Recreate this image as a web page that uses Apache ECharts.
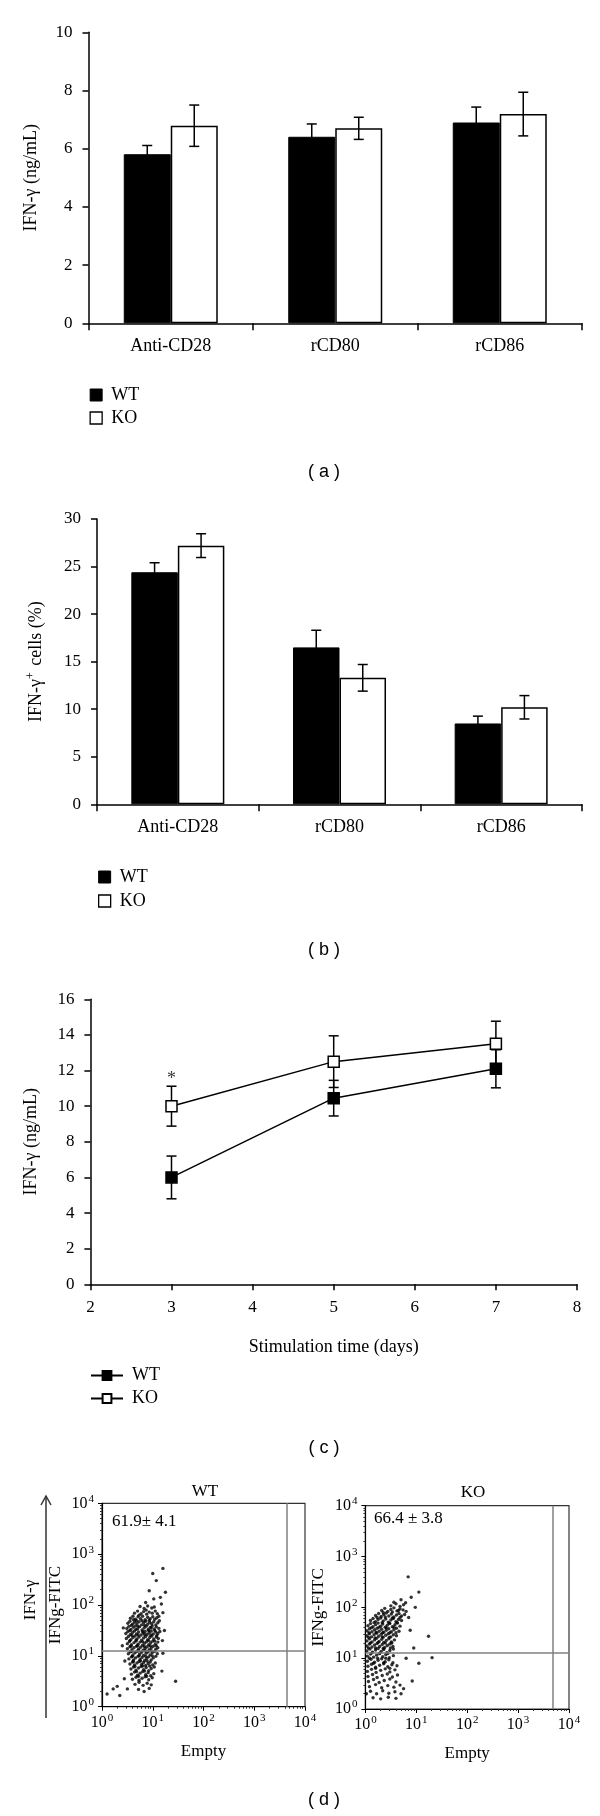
<!DOCTYPE html>
<html><head><meta charset="utf-8">
<script src="https://cdn.jsdelivr.net/npm/echarts@6/dist/echarts.min.js"></script>
<style>html,body{margin:0;padding:0;background:#fff}#c{width:600px;height:1816px}</style>
</head><body><div id="c"></div>
<script>
// ---------- data ----------
const categories = ['Anti-CD28', 'rCD80', 'rCD86'];
// panel (a) IFN-γ (ng/mL)
const aWT = [5.81, 6.41, 6.90];
const aWTerr = [0.30, 0.44, 0.53];
const aKO = [6.79, 6.70, 7.19];
const aKOerr = [0.71, 0.38, 0.75];
// panel (b) IFN-γ+ cells (%)
const bWT = [24.4, 16.5, 8.5];
const bWTerr = [1.0, 1.8, 0.77];
const bKO = [27.2, 13.3, 10.2];
const bKOerr = [1.25, 1.4, 1.23];
// panel (c) time course
const cDays = [3, 5, 7];
const cWT = [6.0, 10.45, 12.1];
const cWTerr = [1.2, 1.0, 1.07];
const cKO = [10.0, 12.5, 13.5];
const cKOerr = [1.12, 1.45, 1.27];
const cStar = [[3, 11.5]];
// panel (d) flow cytometry, log10 coordinates [x, y]
const dGateWT = [3.64, 1.11];
const dGateKO = [3.68, 1.10];
const dWTlabel = '61.9\u00b1 4.1';
const dKOlabel = '66.4 \u00b1 3.8';
const dWTlog = [
[0.75,1.97],[0.83,1.93],[0.9,1.98],[0.98,1.94],[1.03,1.96],[0.87,1.9],
[0.64,1.84],[0.7,1.88],[0.77,1.83],[0.82,1.87],[0.88,1.82],[0.93,1.86],[0.99,1.84],[1.05,1.88],[1.09,1.83],[0.73,1.8],
[0.56,1.74],[0.61,1.78],[0.66,1.72],[0.71,1.77],[0.76,1.73],[0.8,1.78],[0.85,1.71],[0.9,1.76],[0.95,1.73],[1.0,1.77],[1.04,1.72],[1.08,1.75],[1.12,1.78],[0.68,1.69],
[0.51,1.64],[0.55,1.68],[0.6,1.62],[0.64,1.66],[0.69,1.63],[0.73,1.67],[0.78,1.61],[0.82,1.65],[0.86,1.68],[0.9,1.62],[0.94,1.66],[0.98,1.63],[1.02,1.67],[1.06,1.61],[1.1,1.65],[1.13,1.69],
[0.49,1.54],[0.53,1.58],[0.57,1.52],[0.62,1.56],[0.66,1.59],[0.7,1.53],[0.74,1.57],[0.79,1.51],[0.83,1.55],[0.87,1.58],[0.91,1.52],[0.95,1.56],[0.99,1.59],[1.03,1.53],[1.07,1.57],[1.12,1.54],
[0.47,1.44],[0.51,1.48],[0.56,1.42],[0.6,1.46],[0.64,1.49],[0.68,1.43],[0.72,1.47],[0.77,1.41],[0.81,1.45],[0.85,1.48],[0.89,1.42],[0.93,1.46],[0.97,1.49],[1.01,1.43],[1.06,1.47],[1.1,1.44],[1.14,1.48],
[0.48,1.34],[0.52,1.38],[0.57,1.32],[0.61,1.36],[0.65,1.39],[0.69,1.33],[0.73,1.37],[0.78,1.31],[0.82,1.35],[0.86,1.38],[0.9,1.32],[0.94,1.36],[0.98,1.39],[1.02,1.33],[1.07,1.37],[1.11,1.34],
[0.5,1.24],[0.54,1.28],[0.58,1.22],[0.63,1.26],[0.67,1.29],[0.71,1.23],[0.75,1.27],[0.8,1.21],[0.84,1.25],[0.88,1.28],[0.92,1.22],[0.96,1.26],[1.0,1.29],[1.05,1.23],[1.1,1.27],
[0.5,1.14],[0.55,1.18],[0.59,1.12],[0.63,1.16],[0.68,1.19],[0.72,1.13],[0.76,1.17],[0.81,1.11],[0.85,1.15],[0.89,1.18],[0.93,1.12],[0.97,1.16],[1.01,1.19],[1.06,1.13],[1.1,1.16],
[0.52,1.04],[0.56,1.08],[0.61,1.02],[0.65,1.06],[0.69,1.09],[0.74,1.03],[0.78,1.07],[0.82,1.01],[0.87,1.05],[0.91,1.08],[0.95,1.02],[0.99,1.06],[1.04,1.09],[1.09,1.04],
[0.53,0.94],[0.58,0.98],[0.62,0.92],[0.66,0.96],[0.71,0.99],[0.75,0.93],[0.79,0.97],[0.84,0.91],[0.88,0.95],[0.92,0.98],[0.97,0.92],[1.01,0.96],[1.06,0.99],
[0.55,0.84],[0.6,0.88],[0.64,0.82],[0.69,0.86],[0.73,0.89],[0.78,0.83],[0.82,0.87],[0.86,0.81],[0.91,0.85],[0.95,0.88],[1.0,0.82],[1.05,0.86],
[0.57,0.74],[0.62,0.78],[0.67,0.72],[0.72,0.76],[0.77,0.79],[0.82,0.73],[0.87,0.77],[0.92,0.71],[0.97,0.75],[1.03,0.78],
[0.58,0.64],[0.64,0.68],[0.7,0.62],[0.75,0.66],[0.8,0.69],[0.86,0.63],[0.91,0.67],[0.96,0.61],[1.02,0.65],
[0.6,0.54],[0.67,0.58],[0.73,0.52],[0.79,0.56],[0.85,0.59],[0.92,0.53],[0.99,0.57],
[0.65,0.44],[0.73,0.48],[0.81,0.42],[0.89,0.46],[0.97,0.43],
[0.72,0.34],[0.83,0.3],[0.93,0.36],
[0.62,1.71],[0.79,1.69],[0.93,1.7],[0.58,1.6],[0.71,1.58],[0.84,1.6],[0.97,1.55],[0.55,1.5],[0.67,1.52],[0.8,1.48],
[0.92,1.5],[1.04,1.5],[0.59,1.4],[0.71,1.41],[0.84,1.42],[0.96,1.41],[1.08,1.4],[0.55,1.3],[0.67,1.31],[0.8,1.28],
[0.92,1.3],[1.04,1.29],[0.57,1.19],[0.7,1.2],[0.83,1.19],[0.95,1.2],[1.07,1.2],[0.59,1.09],[0.72,1.1],[0.85,1.1],
[0.97,1.1],[0.6,0.99],[0.73,1.0],[0.86,0.99],[0.99,1.0],[0.62,0.89],[0.76,0.9],[0.89,0.9],[0.65,0.79],[0.8,0.8],
[0.94,0.8],[0.68,0.69],[0.84,0.7],[0.72,0.6],[0.88,0.6],
[1.2,2.72],[1.0,2.62],[1.07,2.48],[1.25,2.25],[0.93,2.28],[1.15,2.15],[1.02,2.12],[0.86,2.05],[1.17,2.02],[1.2,1.85],
[1.23,1.5],[1.19,1.3],[1.2,1.05],[1.45,0.5],[0.42,1.55],[0.4,1.2],[0.45,0.9],[0.44,0.55],[0.3,0.4],[0.22,0.35],
[0.1,0.25],[0.35,0.22],[0.5,0.35],[1.18,0.7]
];
const dKOlog = [
[0.5,2.03],[0.6,2.07],[0.68,2.02],[0.75,2.05],[0.79,2.09],[0.56,2.1],
[0.32,1.94],[0.38,1.98],[0.44,1.92],[0.5,1.96],[0.56,1.99],[0.62,1.93],[0.68,1.97],[0.74,1.95],[0.8,1.92],
[0.2,1.84],[0.26,1.88],[0.31,1.82],[0.36,1.86],[0.41,1.89],[0.46,1.83],[0.51,1.87],[0.56,1.81],[0.61,1.85],[0.66,1.88],[0.71,1.83],[0.77,1.86],
[0.1,1.74],[0.15,1.78],[0.2,1.72],[0.25,1.76],[0.3,1.79],[0.35,1.73],[0.4,1.77],[0.45,1.71],[0.5,1.75],[0.55,1.78],[0.6,1.72],[0.65,1.76],[0.71,1.74],
[0.05,1.64],[0.1,1.68],[0.15,1.62],[0.2,1.66],[0.25,1.69],[0.3,1.63],[0.34,1.67],[0.39,1.61],[0.43,1.65],[0.48,1.68],[0.53,1.62],[0.58,1.66],[0.63,1.69],[0.68,1.63],
[0.03,1.54],[0.08,1.58],[0.13,1.52],[0.18,1.56],[0.23,1.59],[0.27,1.53],[0.32,1.57],[0.36,1.51],[0.41,1.55],[0.46,1.58],[0.51,1.52],[0.56,1.56],[0.61,1.59],[0.66,1.53],
[0.03,1.44],[0.08,1.48],[0.12,1.42],[0.17,1.46],[0.22,1.49],[0.26,1.43],[0.31,1.47],[0.35,1.41],[0.4,1.45],[0.45,1.48],[0.5,1.42],[0.55,1.46],[0.61,1.44],
[0.03,1.34],[0.08,1.38],[0.13,1.32],[0.18,1.36],[0.22,1.39],[0.27,1.33],[0.32,1.37],[0.36,1.31],[0.41,1.35],[0.46,1.38],[0.51,1.32],[0.57,1.36],
[0.03,1.24],[0.08,1.28],[0.13,1.22],[0.18,1.26],[0.23,1.29],[0.28,1.23],[0.33,1.27],[0.38,1.21],[0.43,1.25],[0.48,1.28],[0.54,1.23],
[0.03,1.14],[0.09,1.18],[0.14,1.12],[0.2,1.16],[0.25,1.19],[0.31,1.13],[0.36,1.17],[0.42,1.11],[0.48,1.15],[0.55,1.18],
[0.04,1.04],[0.1,1.08],[0.16,1.02],[0.22,1.06],[0.28,1.09],[0.34,1.03],[0.4,1.07],[0.47,1.01],[0.55,1.05],
[0.04,0.94],[0.11,0.98],[0.18,0.92],[0.25,0.96],[0.32,0.99],[0.39,0.93],[0.46,0.97],[0.54,0.91],
[0.05,0.84],[0.12,0.88],[0.2,0.82],[0.28,0.86],[0.36,0.89],[0.44,0.83],[0.52,0.87],[0.62,0.85],
[0.04,0.74],[0.12,0.78],[0.21,0.72],[0.3,0.76],[0.39,0.79],[0.48,0.73],[0.58,0.77],
[0.05,0.64],[0.14,0.68],[0.23,0.62],[0.33,0.66],[0.43,0.69],[0.53,0.63],[0.63,0.67],
[0.06,0.54],[0.16,0.58],[0.27,0.52],[0.37,0.56],[0.48,0.59],[0.6,0.53],
[0.08,0.44],[0.2,0.48],[0.32,0.42],[0.44,0.46],[0.56,0.43],[0.68,0.47],
[0.1,0.35],[0.22,0.3],[0.34,0.36],[0.46,0.31],[0.58,0.34],[0.7,0.3],
[0.15,0.22],[0.3,0.2],[0.45,0.23],[0.6,0.21],
[0.35,1.9],[0.53,1.91],[0.65,1.94],[0.23,1.8],[0.39,1.81],[0.53,1.79],[0.68,1.8],[0.17,1.7],[0.33,1.7],[0.47,1.69],
[0.62,1.7],[0.12,1.6],[0.27,1.61],[0.41,1.6],[0.56,1.61],[0.07,1.5],[0.21,1.51],[0.34,1.5],[0.48,1.5],[0.6,1.5],
[0.06,1.41],[0.19,1.4],[0.33,1.42],[0.47,1.41],[0.1,1.3],[0.25,1.31],[0.39,1.3],[0.52,1.3],[0.06,1.2],[0.2,1.2],
[0.35,1.19],[0.49,1.2],[0.12,1.1],[0.28,1.1],[0.44,1.09],[0.08,1.0],[0.24,1.0],[0.4,1.0],[0.16,0.9],[0.36,0.91],
[0.2,0.8],[0.48,0.8],
[0.84,2.6],[1.05,2.3],[0.9,2.2],[0.85,1.8],[1.24,1.43],[1.31,1.01],[0.92,0.55],[1.05,0.9],[0.95,1.2],[0.88,1.55],
[0.8,1.0],[0.75,0.4],[0.02,0.3],[0.7,2.15],[0.98,2.0]
];

// ---------- helpers ----------
const SERIF = 'Liberation Serif';
const BLACK = '#000';
const tickFont = {color: BLACK, fontFamily: SERIF, fontSize: 17};

function catAxis(gi) {
  return {type: 'category', gridIndex: gi, data: categories, boundaryGap: true,
    axisLine: {show: true, lineStyle: {color: BLACK, width: 1.5}},
    axisTick: {show: true, length: 7, lineStyle: {color: BLACK, width: 1.5}},
    axisLabel: {margin: 14, color: BLACK, fontFamily: SERIF, fontSize: 18}, splitLine: {show: false}};
}
function valAxis(gi, min, max, interval, name, nameGap, rich) {
  return {type: 'value', gridIndex: gi, min, max, interval,
    name, nameLocation: 'middle', nameGap, nameRotate: 90,
    nameTextStyle: {color: BLACK, fontFamily: SERIF, fontSize: 18, rich: rich || {}},
    axisLine: {show: true, onZero: false, lineStyle: {color: BLACK, width: 1.5}},
    axisTick: {show: true, length: 6, lineStyle: {color: BLACK, width: 1.5}},
    axisLabel: Object.assign({margin: 16}, tickFont), splitLine: {show: false}};
}
function logAxis(gi, isX, name) {
  return {type: 'log', logBase: 10, gridIndex: gi, min: 1, max: 10000, splitNumber: 4,
    name, nameLocation: 'middle', nameGap: isX ? 36 : 38, nameRotate: isX ? 0 : 90,
    nameTextStyle: {color: BLACK, fontFamily: SERIF, fontSize: 17},
    axisLine: {show: true, onZero: false, lineStyle: {color: BLACK, width: 1.2}},
    axisTick: {show: true, length: 4, lineStyle: {color: BLACK, width: 1}},
    minorTick: {show: true, splitNumber: 9, length: 2, lineStyle: {color: '#333', width: 1}},
    splitLine: {show: false}, minorSplitLine: {show: false},
    axisLabel: {margin: isX ? 6 : 8, color: BLACK, fontFamily: SERIF, fontSize: 16,
      formatter: v => '{b|10}{s|' + Math.round(Math.log10(v)) + '}',
      rich: {b: {fontFamily: SERIF, fontSize: 16, color: BLACK},
             s: {fontFamily: SERIF, fontSize: 11, color: BLACK, verticalAlign: 'bottom', padding: [0, 0, 9, 1]}}}};
}
function errBar(gi, xs, vals, errs, off, cap, z) {
  return {type: 'custom', xAxisIndex: gi, yAxisIndex: gi, z: z, silent: true,
    data: vals.map((v, i) => [xs[i], v, errs[i]]),
    encode: {x: 0, y: 1},
    renderItem: (p, api) => {
      const x = api.value(0), v = api.value(1), e = api.value(2);
      const hi = api.coord([x, v + e]), lo = api.coord([x, v - e]);
      const cx = hi[0] + off;
      const st = {stroke: BLACK, lineWidth: 1.5};
      return {type: 'group', children: [
        {type: 'line', shape: {x1: cx, y1: hi[1], x2: cx, y2: lo[1]}, style: st},
        {type: 'line', shape: {x1: cx - cap, y1: hi[1], x2: cx + cap, y2: hi[1]}, style: st},
        {type: 'line', shape: {x1: cx - cap, y1: lo[1], x2: cx + cap, y2: lo[1]}, style: st}]};
    }};
}
function legendData(a, b) {
  return [{name: a, itemStyle: {color: BLACK, borderColor: BLACK, borderWidth: 1}},
          {name: b, itemStyle: {color: '#fff', borderColor: BLACK, borderWidth: 1.3}}];
}
const legendText = {color: BLACK, fontFamily: SERIF, fontSize: 18, padding: [0, 0, 0, 4]};
const idx = [0, 1, 2];
const barA = 47, barB = 46.5;
const dotStyle = {color: '#000', opacity: 0.8};

const option = {
  animation: false,
  backgroundColor: '#fff',
  grid: [
    {left: 88.5, top: 32.3, width: 493.5, height: 291, outerBoundsMode: 'none'},
    {left: 97, top: 519, width: 485, height: 285.3, outerBoundsMode: 'none'},
    {left: 90.4, top: 999.3, width: 486.6, height: 285, outerBoundsMode: 'none'},
    {left: 102, top: 1503.3, width: 203, height: 203.4, show: true, borderColor: '#333', borderWidth: 1.2, outerBoundsMode: 'none'},
    {left: 365.4, top: 1505.7, width: 203.6, height: 203.3, show: true, borderColor: '#333', borderWidth: 1.2, outerBoundsMode: 'none'}
  ],
  xAxis: [
    catAxis(0), catAxis(1),
    {type: 'value', gridIndex: 2, min: 2, max: 8, interval: 1,
     name: 'Stimulation time (days)', nameLocation: 'middle', nameGap: 54,
     nameTextStyle: {color: BLACK, fontFamily: SERIF, fontSize: 18},
     axisLine: {show: true, onZero: false, lineStyle: {color: BLACK, width: 1.5}},
     axisTick: {show: true, length: 6, lineStyle: {color: BLACK, width: 1.5}},
     axisLabel: Object.assign({margin: 15}, tickFont), splitLine: {show: false}},
    logAxis(3, true, 'Empty'), logAxis(4, true, 'Empty')
  ],
  yAxis: [
    valAxis(0, 0, 10, 2, 'IFN-\u03b3 (ng/mL)', 48),
    valAxis(1, 0, 30, 5, 'IFN-\u03b3{sup|+} cells (%)', 50, {sup: {fontFamily: SERIF, fontSize: 12, color: BLACK, verticalAlign: 'bottom', padding: [0, 2, 10, 0]}}),
    valAxis(2, 0, 16, 2, 'IFN-\u03b3 (ng/mL)', 50),
    logAxis(3, false, 'IFNg-FITC'), logAxis(4, false, 'IFNg-FITC')
  ],
  legend: [
    {left: 89.5, top: 386, padding: 0, orient: 'vertical', itemWidth: 12, itemHeight: 12, itemGap: 5, icon: 'rect',
     selectedMode: false, data: legendData('WT-a', 'KO-a'), formatter: n => n.split('-')[0], textStyle: legendText},
    {left: 98, top: 868, padding: 0, orient: 'vertical', itemWidth: 12, itemHeight: 12, itemGap: 6, icon: 'rect',
     selectedMode: false, data: legendData('WT-b', 'KO-b'), formatter: n => n.split('-')[0], textStyle: legendText},
    {left: 90, top: 1366.5, padding: 0, orient: 'vertical', itemWidth: 32, itemHeight: 11, itemGap: 5,
     selectedMode: false, data: ['WT-c', 'KO-c'], formatter: n => n.split('-')[0], textStyle: legendText}
  ],
  series: [
    {name: 'WT-a', type: 'bar', xAxisIndex: 0, yAxisIndex: 0, data: aWT, barWidth: barA, barGap: '0%',
     itemStyle: {color: BLACK, borderColor: BLACK, borderWidth: 1}},
    {name: 'KO-a', type: 'bar', xAxisIndex: 0, yAxisIndex: 0, data: aKO, barWidth: barA, barGap: '0%',
     itemStyle: {color: '#fff', borderColor: BLACK, borderWidth: 1.5}},
    errBar(0, idx, aWT, aWTerr, -barA / 2, 5, 5),
    errBar(0, idx, aKO, aKOerr, barA / 2, 5, 5),
    {name: 'WT-b', type: 'bar', xAxisIndex: 1, yAxisIndex: 1, data: bWT, barWidth: barB, barGap: '0%',
     itemStyle: {color: BLACK, borderColor: BLACK, borderWidth: 1}},
    {name: 'KO-b', type: 'bar', xAxisIndex: 1, yAxisIndex: 1, data: bKO, barWidth: barB, barGap: '0%',
     itemStyle: {color: '#fff', borderColor: BLACK, borderWidth: 1.5}},
    errBar(1, idx, bWT, bWTerr, -barB / 2, 5, 5),
    errBar(1, idx, bKO, bKOerr, barB / 2, 5, 5),
    errBar(2, cDays, cWT, cWTerr, 0, 5, 1),
    errBar(2, cDays, cKO, cKOerr, 0, 5, 1),
    {name: 'WT-c', type: 'line', xAxisIndex: 2, yAxisIndex: 2, z: 3,
     data: cDays.map((d, i) => [d, cWT[i]]), symbol: 'rect', symbolSize: 11, showSymbol: true,
     lineStyle: {color: BLACK, width: 1.5}, itemStyle: {color: BLACK, borderColor: BLACK, borderWidth: 1.5}},
    {name: 'KO-c', type: 'line', xAxisIndex: 2, yAxisIndex: 2, z: 3,
     data: cDays.map((d, i) => [d, cKO[i]]), symbol: 'rect', symbolSize: 11, showSymbol: true,
     lineStyle: {color: BLACK, width: 1.5}, itemStyle: {color: '#fff', borderColor: BLACK, borderWidth: 1.5}},
    {type: 'scatter', xAxisIndex: 2, yAxisIndex: 2, data: cStar, symbolSize: 0, silent: true,
     label: {show: true, position: 'inside', formatter: '*', color: BLACK, fontFamily: SERIF, fontSize: 18}},
    {type: 'scatter', xAxisIndex: 3, yAxisIndex: 3, symbolSize: 3.4, silent: true,
     data: dWTlog.map(p => [Math.pow(10, p[0]), Math.pow(10, p[1])]), itemStyle: dotStyle,
     markLine: {silent: true, symbol: 'none', label: {show: false}, lineStyle: {color: '#808080', width: 1.5, type: 'solid'},
       data: [{yAxis: Math.pow(10, dGateWT[1])}, {xAxis: Math.pow(10, dGateWT[0])}]}},
    {type: 'scatter', xAxisIndex: 4, yAxisIndex: 4, symbolSize: 3.4, silent: true,
     data: dKOlog.map(p => [Math.pow(10, p[0]), Math.pow(10, p[1])]), itemStyle: dotStyle,
     markLine: {silent: true, symbol: 'none', label: {show: false}, lineStyle: {color: '#808080', width: 1.5, type: 'solid'},
       data: [{yAxis: Math.pow(10, dGateKO[1])}, {xAxis: Math.pow(10, dGateKO[0])}]}}
  ],
  graphic: [
    {type: 'text', x: 324, y: 472, style: {text: '( a )', font: '18px "Liberation Sans"', fill: BLACK, textAlign: 'center', textVerticalAlign: 'middle'}},
    {type: 'text', x: 324, y: 950, style: {text: '( b )', font: '18px "Liberation Sans"', fill: BLACK, textAlign: 'center', textVerticalAlign: 'middle'}},
    {type: 'text', x: 324, y: 1448, style: {text: '( c )', font: '18px "Liberation Sans"', fill: BLACK, textAlign: 'center', textVerticalAlign: 'middle'}},
    {type: 'text', x: 324, y: 1800, style: {text: '( d )', font: '18px "Liberation Sans"', fill: BLACK, textAlign: 'center', textVerticalAlign: 'middle'}},
    {type: 'text', x: 205, y: 1492, style: {text: 'WT', font: '17px "Liberation Serif"', fill: BLACK, textAlign: 'center', textVerticalAlign: 'middle'}},
    {type: 'text', x: 473, y: 1493, style: {text: 'KO', font: '17px "Liberation Serif"', fill: BLACK, textAlign: 'center', textVerticalAlign: 'middle'}},
    {type: 'text', x: 112, y: 1522, style: {text: dWTlabel, font: '17px "Liberation Serif"', fill: BLACK, textAlign: 'left', textVerticalAlign: 'middle'}},
    {type: 'text', x: 374, y: 1519, style: {text: dKOlabel, font: '17px "Liberation Serif"', fill: BLACK, textAlign: 'left', textVerticalAlign: 'middle'}},
    {type: 'line', shape: {x1: 46, y1: 1718, x2: 46, y2: 1496}, style: {stroke: '#333', lineWidth: 1.5}},
    {type: 'polyline', shape: {points: [[41, 1505], [46, 1496], [51, 1505]]}, style: {stroke: '#333', lineWidth: 1.5, fill: null}},
    {type: 'text', x: 31, y: 1600, rotation: Math.PI / 2, style: {text: 'IFN-\u03b3', font: '17px "Liberation Serif"', fill: BLACK, textAlign: 'center', textVerticalAlign: 'middle'}}
  ]
};
const chart = echarts.init(document.getElementById('c'), null, {renderer: 'canvas'});
chart.setOption(option);
</script>
</body></html>
